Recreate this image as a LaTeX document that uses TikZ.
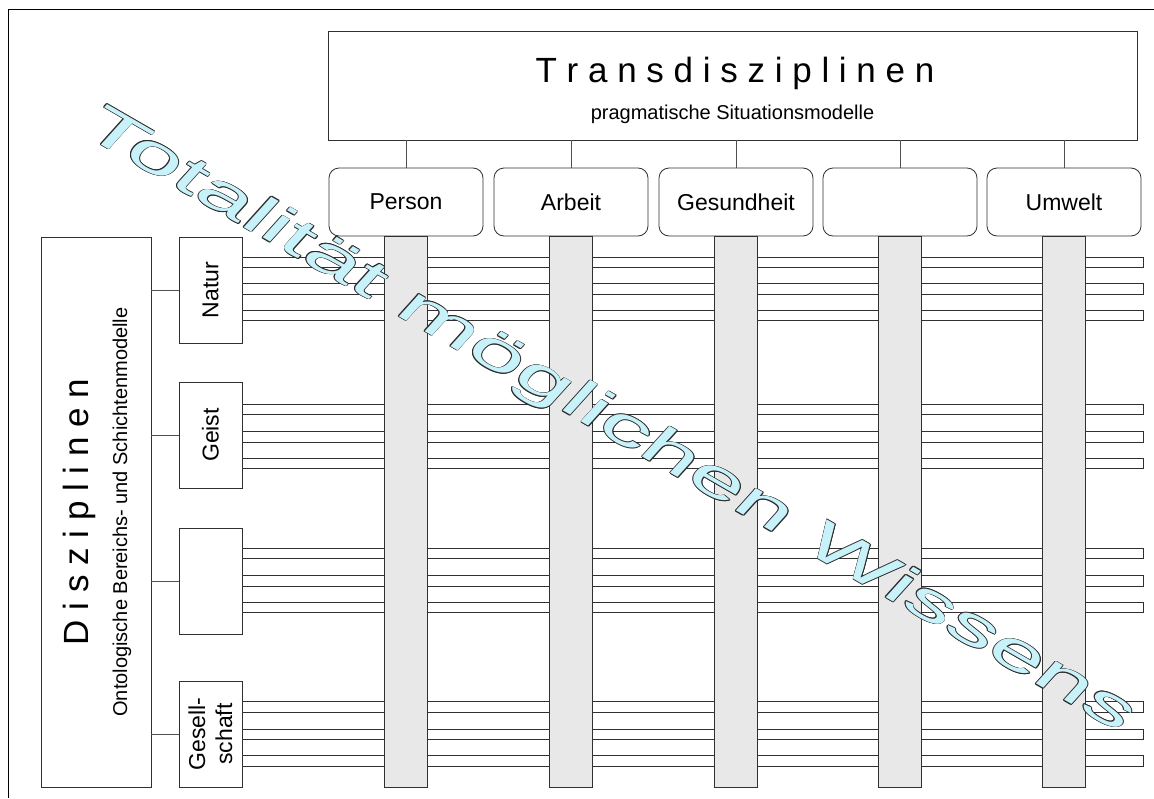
\documentclass[tikz,border=0pt]{standalone}
\usepackage{fontspec}
\setmainfont{Liberation Sans}
\usepackage{graphicx}
\definecolor{linec}{HTML}{303030}
\definecolor{connc}{HTML}{505050}
\definecolor{barfill}{HTML}{E8E8E8}
\definecolor{wmfill}{HTML}{C8F2FA}
\definecolor{wmline}{HTML}{2A2A2A}
\newcommand{\wmtext}{\scalebox{1.6}[1]{\fontsize{52}{52}\selectfont Totalität möglichen Wissens}}
\begin{document}
\begin{tikzpicture}[x=1pt,y=-1pt,
  plainbox/.style={draw=linec, line width=0.8pt, fill=white, inner sep=0pt, outer sep=0pt},
  roundbox/.style={plainbox, rounded corners=10pt, minimum width=154pt, minimum height=68pt, anchor=north west, font=\fontsize{23}{26}\selectfont},
  sidebox/.style={plainbox, minimum width=63pt, minimum height=106pt, anchor=north west},
  strip/.style={plainbox, minimum width=901pt, minimum height=10.5pt, anchor=north west},
  bar/.style={draw=linec, line width=0.8pt, fill=barfill, inner sep=0pt, outer sep=0pt, minimum width=43pt, minimum height=551pt, anchor=north},
  conn/.style={draw=connc, line width=0.8pt},
  sidelabel/.style={rotate=90, font=\fontsize{23}{27}\selectfont, align=center, inner sep=0pt},
  wm/.style={anchor=base west, inner sep=0pt, outer sep=0pt, transform shape},
]
\useasboundingbox (0,0) rectangle (1154,798);
% frame
\coordinate (fTL) at (8,9);
\coordinate (fTR) at (1154,9);
\coordinate (fBL) at (8,798);
\draw[black, line width=0.9pt] (fTR) -- (fTL) -- (fBL);

% horizontal strips
\foreach \y [count=\i] in {257,283.5,310, 404,431.5,458, 548,575.5,602, 701.5,729,755.5}
  \node[strip] (strip\i) at (242,\y) {};

% top box
\node[plainbox, minimum width=809pt, minimum height=109pt, anchor=north west] (trans) at (328,31) {};
\node[anchor=base, inner sep=0pt, font=\fontsize{35}{40}\selectfont] (transT) at (735,82) {T r a n s d i s z i p l i n e n};
\node[anchor=base, inner sep=0pt, font=\fontsize{20}{24}\selectfont] (transS) at (732.5,119) {pragmatische Situationsmodelle};

% rounded boxes
\node[roundbox] (person) at (329,168) {Person};
\node[roundbox] (arbeit) at (494,168) {Arbeit};
\node[roundbox] (gesund) at (659,168) {Gesundheit};
\node[roundbox] (leerT) at (823,168) {};
\node[roundbox] (umwelt) at (987,168) {Umwelt};

\foreach \n in {person,arbeit,gesund,leerT,umwelt}{
  \draw[conn] (trans.south -| \n.north) -- (\n.north);
  \node[bar] (bar\n) at (\n.south) {};
}

% left side
\node[plainbox, minimum width=110pt, minimum height=550pt, anchor=north west] (disz) at (41,237) {};
\node[rotate=90, anchor=base, inner sep=0pt, font=\fontsize{35}{40}\selectfont] (diszT) at (88,512) {D i s z i p l i n e n};
\node[rotate=90, anchor=base, inner sep=0pt, font=\fontsize{20}{24}\selectfont] (diszS) at (127,512) {Ontologische Bereichs- und Schichtenmodelle};

\node[sidebox] (natur) at (179,237) {};
\node[sidebox] (geist) at (179,382) {};
\node[sidebox] (leerL) at (179,528) {};
\node[sidebox] (gesell) at (179,681) {};
\node[sidelabel] (naturL) at (natur.center) {Natur};
\node[sidelabel] (geistL) at (geist.center) {Geist};
\node[sidelabel] (gesellL) at (gesell.center) {Gesell-\\schaft};

\foreach \n in {natur,geist,leerL,gesell}
  \draw[conn] (\n.west -| disz.east) -- (\n.west);

% watermark
\coordinate (wmo) at (79,132);
\begin{scope}[xscale=1.25]
\foreach \a in {0,45,...,315}
  \node[wm, text=wmline, shift={(\a:0.6)}, rotate=-35.8] (wmc\a) at (wmo) {\wmtext};
\node[wm, text=wmfill, rotate=-35.8] (wm) at (wmo) {\wmtext};
\end{scope}
\end{tikzpicture}
\end{document}
